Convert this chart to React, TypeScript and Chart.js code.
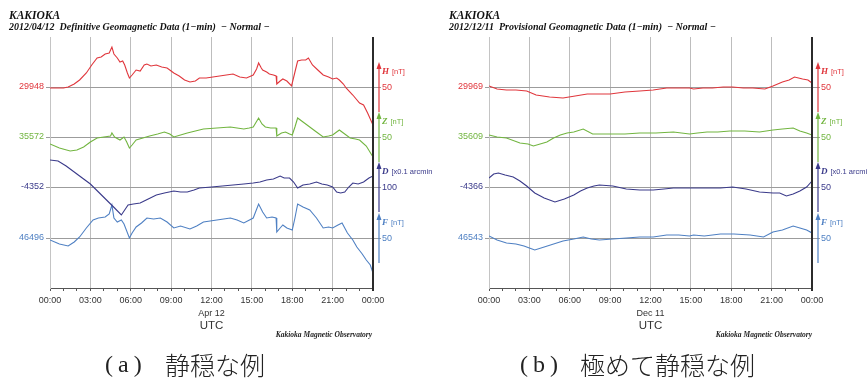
import React, { useEffect, useRef } from "react";
import { Chart, registerables } from "chart.js";

Chart.register(...registerables);

type P = [number, number][];

// ---- Panel (a) 2012/04/12 : deviations from the labelled baseline, [hour, value]
const A_H: P = [[0,-1],[0.5,-1],[1,-1],[1.35,0],[1.8,3],[2.2,7],[2.7,14],[3.1,22],[3.5,29],[3.8,30],[4.1,33],[4.4,34],[4.6,40],[4.75,33],[5.0,29],[5.2,25],[5.4,26],[5.55,22],[5.75,14],[5.9,9],[6.1,12],[6.4,17],[6.7,16],[7.0,22],[7.2,23],[7.5,21],[7.9,22],[8.3,20],[8.7,19],[9.0,16],[9.2,14],[9.6,11],[10.0,7],[10.4,5],[10.8,6],[11.1,9],[11.6,9],[12.1,10],[12.6,11],[13.1,12],[13.6,13],[14.1,10],[14.6,9],[15.1,12],[15.35,18],[15.5,24],[15.7,19],[15.8,17],[16.1,15],[16.3,13],[16.6,12],[16.8,11],[16.85,3],[17.1,6],[17.3,8],[17.6,6],[17.95,1],[18.2,15],[18.4,26],[18.7,27],[19.0,27],[19.2,29],[19.5,22],[19.9,17],[20.3,12],[20.7,10],[21.0,8],[21.3,9],[21.5,7],[21.8,3],[22.0,-1],[22.5,-8],[23.0,-16],[23.3,-18],[23.6,-26],[24,-38]];
const A_Z: P = [[0,-7],[0.7,-11],[1.5,-14],[2.0,-13],[2.5,-10],[3.0,-5],[3.5,-1],[4.0,0],[4.5,1],[4.6,4],[4.8,0],[5.2,-3],[5.5,0],[5.7,-5],[5.9,-11],[6.1,-8],[6.4,-3],[6.9,-1],[7.4,1],[8.0,3],[8.5,5],[8.9,3],[9.2,0],[9.7,2],[10.2,4],[10.8,6],[11.4,8],[12.4,9],[13.4,10],[13.9,9],[14.4,8],[14.8,9],[15.1,10],[15.5,19],[15.75,13],[16.0,10],[16.4,9],[16.8,9],[16.85,1],[17.2,4],[17.5,5],[17.8,3],[18.0,2],[18.2,10],[18.4,19],[18.8,15],[19.3,10],[19.8,5],[20.3,0],[20.7,1],[21.0,2],[21.3,5],[21.5,7],[21.9,3],[22.3,-1],[22.7,-2],[23.0,-3],[23.5,-9],[24,-20]];
const A_D: P = [[0,54],[0.6,52],[1.2,42],[2.0,26],[3.0,6],[3.6,-10],[4.2,-26],[4.8,-42],[5.3,-56],[5.5,-48],[5.8,-36],[6.2,-34],[6.7,-32],[7.3,-24],[7.9,-16],[8.5,-12],[9.2,-8],[9.7,-10],[10.2,-10],[10.7,-6],[11.1,-2],[12.0,0],[12.8,2],[13.6,4],[14.4,6],[15.1,8],[15.6,10],[16.1,14],[16.6,16],[17.1,22],[17.4,18],[17.8,18],[18.1,10],[18.4,-2],[18.8,4],[19.3,6],[19.8,10],[20.2,6],[20.6,4],[21.0,0],[21.3,-10],[21.6,-12],[21.9,-10],[22.2,0],[22.5,8],[22.9,6],[23.3,10],[23.7,18],[24,22]];
const A_F: P = [[0,-2],[0.7,-6],[1.35,-8],[1.8,-4],[2.2,1],[2.7,10],[3.2,18],[3.6,20],[4.1,21],[4.4,24],[4.6,33],[4.75,20],[5.0,16],[5.3,18],[5.5,14],[5.9,0],[6.1,5],[6.4,11],[6.8,15],[7.2,20],[7.7,19],[8.2,20],[8.7,16],[9.2,10],[9.7,12],[10.4,9],[10.9,12],[11.4,16],[12.4,18],[13.4,20],[13.9,18],[14.4,15],[15.1,20],[15.5,34],[15.8,26],[16.1,20],[16.5,21],[16.8,20],[16.85,6],[17.1,10],[17.3,13],[17.6,10],[18.0,8],[18.2,20],[18.4,34],[18.8,31],[19.3,28],[19.8,20],[20.3,10],[20.7,11],[21.0,10],[21.4,13],[21.7,15],[22.1,5],[22.5,-2],[22.8,-9],[23.2,-16],[23.5,-22],[23.8,-27],[24,-35]];
const A_BASE = ["29948", "35572", "-4352", "46496"];
const A_SCALE = [50, 50, 100, 50];

// ---- Panel (b) 2012/12/11
const B_H: P = [[0,1],[0.6,-2],[1.3,-3],[2.0,-3],[2.8,-4],[3.5,-8],[4.5,-10],[5.5,-11],[6.4,-9],[7.3,-7],[8.2,-7],[9.0,-7],[10.1,-5],[11.2,-4],[12.2,-3],[13.2,-1],[14.1,-1],[14.9,-1],[15.2,-2],[15.9,-1],[16.6,-1],[17.4,0],[18.1,0],[18.9,-1],[19.6,-1],[20.5,-2],[21.1,1],[21.8,5],[22.3,7],[22.7,10],[23.0,9],[23.3,8],[23.7,7],[24,4]];
const B_Z: P = [[0,2],[0.6,0],[1.3,-1],[2.3,-6],[2.9,-7],[3.3,-9],[3.8,-7],[4.3,-5],[4.8,-1],[5.3,2],[5.8,4],[6.3,5],[7.0,8],[7.7,3],[8.4,3],[9.0,3],[10.1,3],[11.2,4],[12.4,4],[13.7,5],[14.9,3],[15.5,4],[16.2,5],[17.0,5],[17.9,6],[19.0,6],[20.1,5],[21.1,7],[21.8,8],[22.6,9],[23.1,6],[23.6,4],[24,2]];
const B_D: P = [[0,9],[0.35,13],[0.7,14],[1.2,12],[1.8,10],[2.3,6],[2.8,1],[3.4,-6],[4.1,-11],[4.9,-15],[5.6,-12],[6.3,-8],[6.8,-4],[7.3,-1],[7.8,1],[8.2,2],[9.2,1],[10.2,-2],[11.2,-3],[12.2,-3],[13.0,-2],[13.7,-1],[14.9,-1],[16.2,-1],[17.2,-1],[18.1,0],[19.1,-2],[20.1,-5],[21.1,-6],[21.6,-6],[22.1,-9],[22.6,-7],[23.1,-4],[23.6,0],[24,6]];
const B_F: P = [[0,2],[0.6,-2],[1.3,-5],[2.0,-6],[2.6,-8],[3.0,-10],[3.4,-12],[4.1,-9],[4.8,-6],[5.5,-3],[6.3,-1],[7.0,1],[7.6,-1],[8.2,-2],[9.2,-1],[10.2,0],[11.2,1],[12.2,1],[13.2,3],[14.1,3],[14.9,2],[15.2,3],[16.0,2],[17.2,4],[18.2,4],[19.4,3],[20.4,1],[21.1,6],[21.8,8],[22.6,12],[23.1,10],[23.6,8],[24,5]];
const B_BASE = ["29969", "35609", "-4366", "46543"];
const B_SCALE = [50, 50, 50, 50];

const HOUR_TICKS = [0,1,2,3,4,5,6,7,8,9,10,11,12,13,14,15,16,17,18,19,20,21,22,23,24];
const COMPONENTS = ["H", "Z", "D", "F"];
const UNITS = ["[nT]", "[nT]", "[x0.1 arcmin]", "[nT]"];
const COLORS = ["#e0363c", "#72b540", "#3a3a8a", "#4f80c3"];

const PLOT_H = 251;
const BASE_OFFSETS = [50, 100, 150, 201];

function pad2(n: number) {
  return (n < 10 ? "0" : "") + n;
}

function Panel(props: {
  left: number;
  width: number;
  padLeft: number;
  padRight: number;
  series: P[];
  base: string[];
  scale: number[];
}) {
  const ref = useRef<HTMLCanvasElement>(null);
  useEffect(() => {
    const { series, base, scale } = props;
    const scales: any = {
      x: {
        type: "linear",
        min: 0,
        max: 24,
        afterBuildTicks: (ax: any) => {
          ax.ticks = HOUR_TICKS.map((v) => ({ value: v }));
        },
        afterFit: (s: any) => {
          s.height = 20;
        },
        ticks: {
          autoSkip: false,
          maxRotation: 0,
          padding: 4,
          color: "#333",
          font: { size: 9, family: "'Liberation Sans', Arial, sans-serif" },
          callback: (v: any) => (Number(v) % 3 === 0 ? pad2(Number(v) % 24) + ":00" : ""),
        },
        grid: {
          color: (c: any) => (c.tick && c.tick.value % 3 === 0 ? "#bdbdbd" : "rgba(0,0,0,0)"),
          tickColor: "#555",
          tickLength: 3,
          lineWidth: 1,
        },
        border: { color: "#555", width: 1 },
      },
    };
    COMPONENTS.forEach((k, i) => {
      const upp = scale[i] / 50;
      scales["y" + k] = {
        type: "linear",
        position: "left",
        min: -(PLOT_H - BASE_OFFSETS[i]) * upp,
        max: BASE_OFFSETS[i] * upp,
        afterBuildTicks: (ax: any) => {
          ax.ticks = [{ value: 0 }];
        },
        afterFit: (s: any) => {
          s.width = 0;
        },
        ticks: {
          color: COLORS[i],
          padding: 2,
          font: { size: 9, family: "'Liberation Sans', Arial, sans-serif" },
          callback: () => base[i],
        },
        grid: { color: "#9c9c9c", tickColor: "#9c9c9c", tickLength: 4, lineWidth: 1 },
        border: { display: i === 0, color: "#c4c4c4", width: 1 },
      };
    });

    // widen the label clip box of the zero-width left axes so their labels show
    const leftLabelPlugin = {
      id: "leftLabels",
      afterLayout(chart: any) {
        COMPONENTS.forEach((k) => {
          const sc = chart.scales["y" + k];
          if (sc) sc.left = 0;
        });
      },
    };

    const rightPlugin = {
      id: "rightAnno",
      afterDraw(chart: any) {
        const { ctx, chartArea } = chart;
        const r = chartArea.right;
        const ax = r + 6;
        ctx.save();
        ctx.strokeStyle = "#2b2b2b";
        ctx.lineWidth = 2;
        ctx.beginPath();
        ctx.moveTo(r, chartArea.top);
        ctx.lineTo(r, chartArea.bottom + 3);
        ctx.stroke();
        COMPONENTS.forEach((k, i) => {
          const sc = chart.scales["y" + k];
          const yb = sc.getPixelForValue(0);
          const yt = sc.getPixelForValue(scale[i] / 2);
          const ye = sc.getPixelForValue(-scale[i] / 2);
          ctx.strokeStyle = "#9c9c9c";
          ctx.lineWidth = 1;
          ctx.beginPath();
          ctx.moveTo(r + 1, Math.round(yb) + 0.5);
          ctx.lineTo(ax + 2, Math.round(yb) + 0.5);
          ctx.stroke();
          ctx.strokeStyle = COLORS[i];
          ctx.fillStyle = COLORS[i];
          ctx.lineWidth = 1.2;
          ctx.beginPath();
          ctx.moveTo(ax, yt + 4);
          ctx.lineTo(ax, ye);
          ctx.stroke();
          ctx.beginPath();
          ctx.moveTo(ax, yt);
          ctx.lineTo(ax - 2.5, yt + 7);
          ctx.lineTo(ax + 2.5, yt + 7);
          ctx.closePath();
          ctx.fill();
          ctx.textBaseline = "middle";
          ctx.textAlign = "left";
          ctx.font = "bold italic 9px 'Liberation Serif', serif";
          ctx.fillText(k, r + 9, yb - 15);
          const lw = ctx.measureText(k).width;
          ctx.font = "7.5px 'Liberation Sans', Arial, sans-serif";
          ctx.fillText(UNITS[i], r + 9 + lw + 3, yb - 15);
          ctx.font = "9px 'Liberation Sans', Arial, sans-serif";
          ctx.fillText(String(scale[i]), r + 9, yb + 0.5);
        });
        ctx.restore();
      },
    };

    const chart = new Chart(ref.current as HTMLCanvasElement, {
      type: "line",
      data: {
        datasets: COMPONENTS.map((k, i) => ({
          label: k,
          data: series[i].map(([x, y]) => ({ x, y })),
          yAxisID: "y" + k,
          borderColor: COLORS[i],
          borderWidth: 1.1,
          pointRadius: 0,
          tension: 0,
          fill: false,
        })),
      },
      options: {
        responsive: false,
        animation: false,
        layout: { padding: { left: props.padLeft, right: props.padRight, top: 37, bottom: 70 } },
        plugins: { legend: { display: false }, tooltip: { enabled: false } },
        scales,
      } as any,
      plugins: [leftLabelPlugin, rightPlugin],
    });
    return () => chart.destroy();
  }, []);
  return (
    <canvas
      ref={ref}
      width={props.width}
      height={378}
      style={{ position: "absolute", left: props.left, top: 0, width: props.width, height: 378 }}
    />
  );
}

const serifBI = "italic bold";

function Texts(props: { x0: number; center: number; right: number; date: string; sub: string; tag: string; cap: string; tagX: number; capX: number }) {
  return (
    <>
      <div style={{ position: "absolute", left: props.x0, top: 8, font: `${serifBI} 11.5px 'Liberation Serif', serif`, lineHeight: "14px", color: "#111", whiteSpace: "pre" }}>KAKIOKA</div>
      <div style={{ position: "absolute", left: props.x0, top: 21, font: `${serifBI} 10px 'Liberation Serif', serif`, lineHeight: "12px", color: "#111", whiteSpace: "pre" }}>{props.sub}</div>
      <div style={{ position: "absolute", left: props.center - 50, width: 100, top: 307, textAlign: "center", font: "9px 'Liberation Sans', Arial, sans-serif", lineHeight: "12px", color: "#333" }}>{props.date}</div>
      <div style={{ position: "absolute", left: props.center - 50, width: 100, top: 318, textAlign: "center", font: "11.5px 'Liberation Sans', Arial, sans-serif", lineHeight: "14px", color: "#333" }}>UTC</div>
      <div style={{ position: "absolute", left: props.right - 160, width: 160, top: 330, textAlign: "right", font: `${serifBI} 7.5px 'Liberation Serif', serif`, lineHeight: "10px", color: "#222", whiteSpace: "pre" }}>Kakioka Magnetic Observatory</div>
      <div style={{ position: "absolute", left: props.tagX, top: 349, font: "24px 'Liberation Serif', serif", lineHeight: "30px", color: "#222", letterSpacing: "5px", whiteSpace: "pre" }}>{props.tag}</div>
      <div style={{ position: "absolute", left: props.capX, top: 349, font: "25px 'Noto Sans CJK JP', sans-serif", fontWeight: 300, lineHeight: "30px", color: "#222", whiteSpace: "pre" }}>{props.cap}</div>
    </>
  );
}

export default function App() {
  return (
    <div style={{ position: "fixed", left: 0, top: 0, width: 867, height: 378, background: "#fff", overflow: "hidden" }}>
      <Panel left={0} width={432} padLeft={50} padRight={59} series={[A_H, A_Z, A_D, A_F]} base={A_BASE} scale={A_SCALE} />
      <Panel left={435} width={432} padLeft={54} padRight={55} series={[B_H, B_Z, B_D, B_F]} base={B_BASE} scale={B_SCALE} />
      <Texts x0={9} center={211.5} right={372} date="Apr 12" sub={"2012/04/12  Definitive Geomagnetic Data (1\u2212min)  \u2212 Normal \u2212"} tag="(a)" cap="静穏な例" tagX={105} capX={165} />
      <Texts x0={449} center={650.5} right={812} date="Dec 11" sub={"2012/12/11  Provisional Geomagnetic Data (1\u2212min)  \u2212 Normal \u2212"} tag="(b)" cap="極めて静穏な例" tagX={520} capX={580} />
    </div>
  );
}
